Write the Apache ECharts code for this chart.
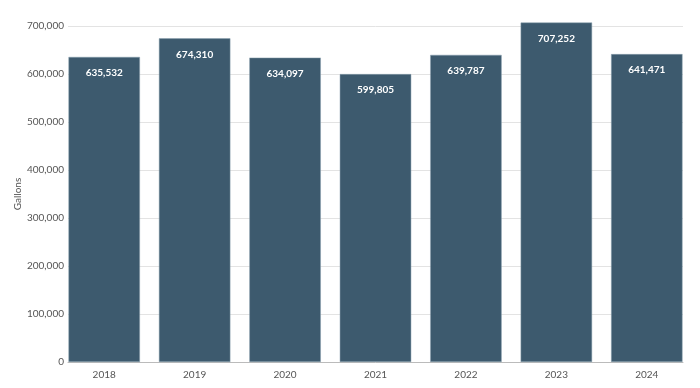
<!DOCTYPE html>
<html><head><meta charset="utf-8">
<script src="https://cdn.jsdelivr.net/npm/echarts@6/dist/echarts.min.js"></script>
<style>html,body{margin:0;padding:0;background:#fff}#c{width:700px;height:388px}</style>
</head><body><div id="c"></div>
<script>
const categories = ['2018','2019','2020','2021','2022','2023','2024'];
const gallons = [635532, 674310, 634097, 599805, 639787, 707252, 641471];
const yTicks = [0,100000,200000,300000,400000,500000,600000,700000];

const yMin = yTicks[0], yMax = yTicks[yTicks.length-1];
const chart = echarts.init(document.getElementById('c'));
chart.setOption({
  animation: false,
  grid: [
    {left: 68, right: 17, top: 26, bottom: 26},
    {left: 59, right: 8, top: 26, bottom: 26}
  ],
  xAxis: [{
    gridIndex: 0, type: 'category', data: categories,
    axisTick: {show: false}, axisLabel: {show: false},
    axisLine: {lineStyle: {color: '#bbbbbb'}}
  }, {
    gridIndex: 1, type: 'category', data: categories,
    axisTick: {show: false}, axisLine: {show: false},
    axisLabel: {color: '#555', fontFamily: 'Lato', fontSize: 10, margin: 8}
  }],
  yAxis: [{
    gridIndex: 0, type: 'value', min: yMin, max: yMax, interval: 100000,
    name: 'Gallons', nameLocation: 'middle', nameGap: 45, nameMoveOverlap: false,
    nameTextStyle: {color: '#555', fontFamily: 'Lato', fontSize: 10},
    axisLabel: {color: '#555', fontFamily: 'Lato', fontSize: 10, margin: 4,
      formatter: v => v.toLocaleString('en-US')},
    splitLine: {lineStyle: {color: '#e3e3e3'}},
    axisLine: {show: false}, axisTick: {show: false}
  }, {
    gridIndex: 1, type: 'value', min: yMin, max: yMax, interval: 100000,
    axisLabel: {show: false}, splitLine: {show: false},
    axisLine: {show: false}, axisTick: {show: false}
  }],
  series: [{
    type: 'bar', data: gallons, clip: false,
    xAxisIndex: 1, yAxisIndex: 1,
    barCategoryGap: '21%',
    itemStyle: {color: '#3d5a6e', borderColor: '#8aa0ae', borderWidth: 0.5},
    label: {show: true, position: 'insideTop', distance: 11, color: '#fff',
      fontFamily: 'Lato', fontWeight: 'bold', fontSize: 10,
      formatter: p => p.value.toLocaleString('en-US')}
  }]
});
</script></body></html>
